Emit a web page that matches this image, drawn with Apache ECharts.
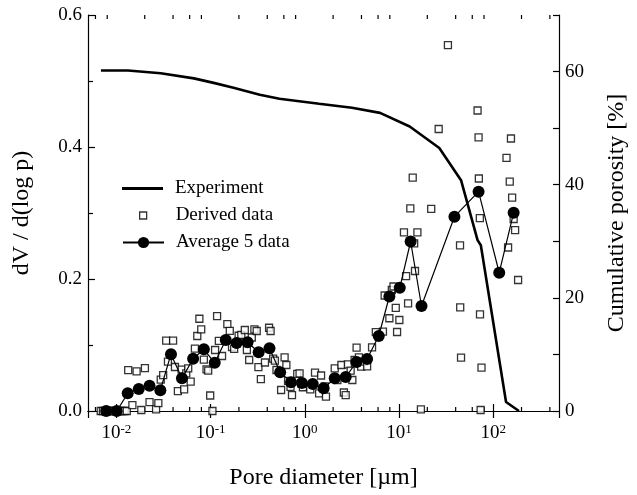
<!DOCTYPE html>
<html>
<head>
<meta charset="utf-8">
<script src="https://cdn.jsdelivr.net/npm/echarts@6/dist/echarts.min.js"></script>
<style>html,body{margin:0;padding:0;background:#fff}#c{width:637px;height:495px}</style>
</head>
<body>
<div id="c"></div>
<script>
// Experiment: cumulative porosity [%] vs pore diameter [um]
var expX = [0.00686, 0.0133, 0.0296, 0.0665, 0.108, 0.175, 0.333, 0.538, 1.42, 3.17, 6.3, 13.0, 26.8, 45.6, 68.3, 74, 137, 188];
var expY = [60.2, 60.2, 59.7, 58.8, 58.0, 57.15, 55.9, 55.2, 54.3, 53.6, 52.7, 50.3, 46.5, 40.8, 30.2, 29.3, 1.6, 0];

// Derived data: dV/d(log p)
var derX = [0.00682, 0.0072, 0.00759, 0.0080, 0.00845, 0.00891, 0.0094, 0.0099, 0.01044, 0.0110, 0.0116, 0.01225, 0.0129,
  0.01336, 0.0148, 0.0164, 0.0184, 0.0201, 0.0225, 0.0264, 0.0279, 0.0296, 0.0314, 0.0338, 0.0353, 0.0400, 0.0419,
  0.0450, 0.0493, 0.0524, 0.0552, 0.0579, 0.0615, 0.0682, 0.0723, 0.0761, 0.0796, 0.0849, 0.0906, 0.0944,
  0.0991, 0.1047, 0.1117, 0.1173, 0.1225, 0.1324, 0.1507, 0.160, 0.169, 0.178, 0.1986, 0.212, 0.231, 0.243, 0.257,
  0.274, 0.292, 0.309, 0.322, 0.342, 0.378, 0.418, 0.434, 0.462, 0.482, 0.501, 0.561, 0.611, 0.638, 0.665, 0.706,
  0.732, 0.832, 0.881, 0.916, 0.955,
  1.145, 1.285, 1.42, 1.49, 1.63, 1.68, 2.08, 2.22, 2.45, 2.60, 2.72, 2.87, 3.07, 3.20, 3.38, 3.55, 3.76, 3.97,
  4.24, 4.59, 5.18, 5.68, 6.76, 7.05, 7.91, 8.40, 8.75, 9.25, 9.55,
  10.1, 11.3, 11.9, 12.5, 13.2, 14.0, 14.5, 14.8, 15.7, 17.1, 22.0, 26.4, 33.1, 44.5, 44.7, 45.6,
  68.3, 70.0, 70.5, 72.2, 72.5, 73.6, 75.2, 138.6, 144, 150, 154.5, 159, 165, 171, 184];
var derY = [0, 0, 0, 0, 0, 0, 0, 0, 0, 0, 0, 0, 0,
  0.062, 0.0088, 0.060, 0.0015, 0.065, 0.0133, 0.0026, 0.0118, 0.0476, 0.0545, 0.1065, 0.0747, 0.1065, 0.0667,
  0.030, 0.0626, 0.0329, 0.0571, 0.0647, 0.0444, 0.0944, 0.1136, 0.1398, 0.1238, 0.0777, 0.0632, 0.0611,
  0.0235, 0, 0.0924, 0.1439, 0.1064, 0.0833, 0.1315, 0.1215, 0.097, 0.094, 0.114, 0.1152, 0.1227, 0.0924, 0.0773,
  0.1114, 0.1238, 0.1212, 0.0664, 0.0482, 0.0735, 0.1261, 0.1212, 0.0795, 0.0762, 0.0621, 0.0318, 0.0814, 0.0697, 0.0455, 0.0366,
  0.0242, 0.0561, 0.0571, 0.042, 0.036,
  0.0329, 0.058, 0.0268, 0.0538, 0.0374, 0.0217, 0.0647, 0.047, 0.0697, 0.028, 0.0242, 0.0705, 0.0611, 0.047, 0.0773, 0.0959, 0.0814, 0.0671,
  0.0747, 0.0677, 0.0965, 0.1194, 0.1202, 0.175, 0.1405, 0.1833, 0.1886, 0.1564, 0.1197,
  0.1379, 0.2705, 0.2045, 0.1632, 0.3071, 0.3535, 0.2541, 0.2121, 0.2705, 0.0026, 0.3064, 0.4273, 0.5545, 0.2508, 0.1571, 0.0808,
  0.4553, 0.4147, 0.3523, 0.2921, 0.1465, 0.0015, 0.0656, 0.3836, 0.2477, 0.3474, 0.4129, 0.3232, 0.2909, 0.2742, 0.1985];

// Average of 5 data
var avgX = [0.0078, 0.0101, 0.0132, 0.0173, 0.0225, 0.0293, 0.038, 0.0497, 0.0653, 0.0849, 0.1107, 0.145, 0.189, 0.247,
  0.324, 0.422, 0.548, 0.715, 0.933, 1.216, 1.586, 2.08, 2.72, 3.55, 4.59, 6.10, 7.91, 10.2, 13.3, 17.35, 38.8, 70.0, 116, 165];
var avgY = [0, 0, 0.0268, 0.0333, 0.0383, 0.0314, 0.0861, 0.0495, 0.0791, 0.0935, 0.073, 0.1076, 0.103, 0.1041,
  0.0891, 0.095, 0.0586, 0.0436, 0.0424, 0.0409, 0.0344, 0.0495, 0.0515, 0.0742, 0.0788, 0.1136, 0.1735, 0.1867, 0.2568, 0.1591, 0.2944, 0.3323, 0.2095, 0.3005];

// minor tick positions on the log axis
var minorTicks = [0.006, 0.008, 0.02, 0.04, 0.06, 0.08, 0.2, 0.4, 0.6, 0.8, 2, 4, 6, 8, 20, 40, 60, 80, 200, 400];

var FONT = '"Liberation Serif", "Times New Roman", serif';

function zip(a, b) { return a.map(function (v, i) { return [v, b[i]]; }); }

var chart = echarts.init(document.getElementById('c'), null, { renderer: 'canvas' });

function logLabel(v) {
  var e = Math.round(Math.log10(v));
  if (Math.abs(Math.log10(v) - e) > 1e-6) return '';
  return '{b|10}{s|' + e + '}';
}

var legendText = { fontFamily: FONT, fontSize: 19, color: '#000' };

var option = {
  animation: false,
  backgroundColor: '#fff',
  textStyle: { fontFamily: FONT, color: '#000' },
  grid: { left: 88, right: 72, top: 15, bottom: 84, containLabel: false },
  legend: [
    { data: [{ name: 'Experiment', icon: 'rect' }], orient: 'vertical', left: 122, top: 179, padding: 0, itemWidth: 41, itemHeight: 3,
      itemStyle: { color: '#000', borderWidth: 0 },
      textStyle: Object.assign({}, legendText, { padding: [0, 0, 0, 7] }), selectedMode: false },
    { data: [{ name: 'Derived data', icon: 'rect' }], orient: 'vertical', left: 139, top: 206, padding: 0,
      itemWidth: 7, itemHeight: 7, itemStyle: { color: '#fff', borderColor: '#000', borderWidth: 1.3 },
      textStyle: Object.assign({}, legendText, { padding: [0, 0, 0, 24] }), selectedMode: false },
    { data: ['Average 5 data'], orient: 'vertical', left: 122, top: 233, padding: 0, itemWidth: 41, itemHeight: 14,
      textStyle: Object.assign({}, legendText, { padding: [0, 0, 0, 7] }), selectedMode: false }
  ],
  xAxis: [
    {
      type: 'log', logBase: 10, min: 0.005, max: 500, position: 'bottom',
      name: 'Pore diameter [\u00b5m]', nameLocation: 'middle', nameGap: 55,
      nameTextStyle: { fontFamily: FONT, fontSize: 24, color: '#000' },
      axisLine: { show: true, lineStyle: { color: '#000', width: 1.2 } },
      axisTick: { show: true, inside: true, length: 7, lineStyle: { color: '#000', width: 1.2 } },
      minorTick: { show: false },
      splitLine: { show: false },
      axisLabel: {
        margin: 12, showMinLabel: false, showMaxLabel: false,
        formatter: logLabel,
        rich: {
          b: { fontFamily: FONT, fontSize: 19, color: '#000' },
          s: { fontFamily: FONT, fontSize: 13, color: '#000', verticalAlign: 'top', padding: [0, 0, 7, 0] }
        }
      }
    },
    {
      type: 'log', logBase: 10, min: 0.005, max: 500, position: 'top',
      axisLine: { show: true, lineStyle: { color: '#000', width: 1.2 } },
      axisTick: { show: true, inside: true, length: 7, lineStyle: { color: '#000', width: 1.2 } },
      axisLabel: { show: false }, splitLine: { show: false }
    }
  ],
  yAxis: [
    {
      type: 'value', min: 0, max: 0.6, interval: 0.2, position: 'left',
      name: 'dV / d(log p)', nameLocation: 'middle', nameGap: 54,
      nameTextStyle: { fontFamily: FONT, fontSize: 24, color: '#000' },
      axisLine: { show: true, lineStyle: { color: '#000', width: 1.2 } },
      axisTick: { show: true, inside: true, length: 7, lineStyle: { color: '#000', width: 1.2 } },
      minorTick: { show: true, splitNumber: 2, length: 5, lineStyle: { color: '#000', width: 1.2 } },
      splitLine: { show: false },
      axisLabel: { margin: 6, fontFamily: FONT, fontSize: 19, color: '#000', formatter: function (v) { return v.toFixed(1); } }
    },
    {
      type: 'value', min: 0, max: 70, interval: 10, position: 'right',
      name: 'Cumulative porosity [%]', nameLocation: 'middle', nameGap: 46, nameRotate: 90,
      nameTextStyle: { fontFamily: FONT, fontSize: 24, color: '#000' },
      axisLine: { show: true, lineStyle: { color: '#000', width: 1.2 } },
      axisTick: { show: true, inside: true, length: 6, lineStyle: { color: '#000', width: 1.2 } },
      splitLine: { show: false },
      axisLabel: { margin: 6, fontFamily: FONT, fontSize: 19, color: '#000', formatter: function (v) { return (v % 20 === 0 && v < 70) ? String(v) : ''; } }
    }
  ],
  series: [
    {
      name: 'Minor ticks', type: 'custom', xAxisIndex: 0, yAxisIndex: 0, silent: true, clip: false,
      data: minorTicks.map(function (v) { return [v]; }),
      renderItem: function (params, api) {
        var b = api.coord([api.value(0), 0]);
        var t = api.coord([api.value(0), 0.6]);
        return {
          type: 'group', children: [
            { type: 'line', shape: { x1: b[0], y1: b[1], x2: b[0], y2: b[1] - 4 }, style: { stroke: '#000', lineWidth: 1.2 } },
            { type: 'line', shape: { x1: t[0], y1: t[1], x2: t[0], y2: t[1] + 4 }, style: { stroke: '#000', lineWidth: 1.2 } }
          ]
        };
      }
    },
    {
      name: 'Derived data', type: 'scatter', xAxisIndex: 0, yAxisIndex: 0,
      data: zip(derX, derY), symbol: 'rect', symbolSize: 7, clip: false,
      itemStyle: { color: '#fff', borderColor: '#000', borderWidth: 1.3 }, z: 2
    },
    {
      name: 'Average 5 data', type: 'line', xAxisIndex: 0, yAxisIndex: 0,
      data: zip(avgX, avgY), symbol: 'circle', symbolSize: 12, showSymbol: true,
      itemStyle: { color: '#000' }, lineStyle: { color: '#000', width: 1.2 }, z: 3
    },
    {
      name: 'Experiment', type: 'line', xAxisIndex: 0, yAxisIndex: 1,
      data: zip(expX, expY), symbol: 'none', showSymbol: false,
      itemStyle: { color: '#000' }, lineStyle: { color: '#000', width: 2.6 }, z: 4
    }
  ]
};
chart.setOption(option);
</script>
</body>
</html>
